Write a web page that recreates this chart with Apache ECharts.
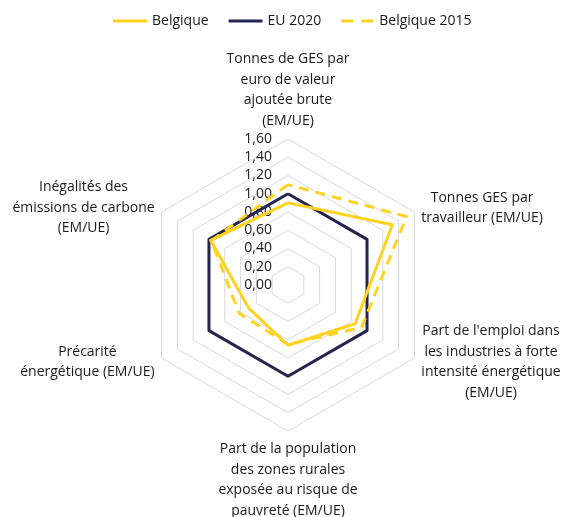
<!DOCTYPE html>
<html>
<head>
<meta charset="utf-8">
<script src="https://cdn.jsdelivr.net/npm/echarts@6/dist/echarts.min.js"></script>
<style>html,body{margin:0;padding:0;background:#fff}#chart{width:566px;height:517px}</style>
</head>
<body>
<div id="chart"></div>
<script>
// Indicators, listed counter-clockwise from the top
const indicatorNames = [
  "Tonnes de GES par\neuro de valeur\najoutée brute\n(EM/UE)",
  "Inégalités des\némissions de carbone\n(EM/UE)",
  "Précarité\nénergétique (EM/UE)",
  "Part de la population\ndes zones rurales\nexposée au risque de\npauvreté (EM/UE)",
  "Part de l'emploi dans\nles industries à forte\nintensité énergétique\n(EM/UE)",
  "Tonnes GES par\ntravailleur (EM/UE)"
];
const seriesNames = ["Belgique", "EU 2020", "Belgique 2015"];
const belgique = [0.90, 0.98, 0.50, 0.66, 0.85, 1.32];
const eu2020 = [1.00, 1.00, 1.00, 1.00, 1.00, 1.00];
const belgique2015 = [1.10, 0.97, 0.62, 0.65, 0.93, 1.50];
const axisMax = 1.6;

const YELLOW = '#FFD21F';
const NAVY = '#23254F';
const FONT = '"Open Sans", "Liberation Sans", sans-serif';

const chart = echarts.init(document.getElementById('chart'), null, {renderer: 'canvas'});

const indicators = indicatorNames.map((n, i) => {
  const o = {name: n, min: 0, max: axisMax};
  if (i === 0) o.axisLabel = {show: true};
  return o;
});

chart.setOption({
  animation: false,
  backgroundColor: '#fff',
  legend: {
    top: 9,
    left: 108,
    itemWidth: 34,
    itemHeight: 3,
    itemGap: 20,
    textStyle: {fontFamily: FONT, fontSize: 14, color: '#1a1a1a'},
    data: [
      {name: seriesNames[0], icon: 'rect', itemStyle: {color: YELLOW}},
      {name: seriesNames[1], icon: 'rect', itemStyle: {color: NAVY}},
      {name: seriesNames[2], icon: 'path://M0,0h12v3h-12zM20,0h12v3h-12z', itemStyle: {color: YELLOW}}
    ]
  },
  radar: {
    center: [288, 285],
    radius: 146,
    shape: 'polygon',
    splitNumber: 8,
    nameGap: 8,
    axisName: {
      color: '#1a1a1a',
      fontFamily: FONT,
      fontSize: 14,
      lineHeight: 20.5,
      formatter: function (v) {
        return v.split('\n').map(l => '{c|' + l + '}').join('\n');
      },
      rich: {c: {align: 'center', fontFamily: FONT, fontSize: 14, lineHeight: 20.5, color: '#1a1a1a'}}
    },
    axisLine: {show: false},
    axisTick: {show: false},
    splitArea: {show: false},
    splitLine: {lineStyle: {color: '#d9d9d9', width: 1}},
    axisLabel: {
      show: false,
      margin: 16,
      color: '#1a1a1a',
      fontFamily: FONT,
      fontSize: 14,
      formatter: function (v) { return Number(v).toFixed(2).replace('.', ','); }
    },
    indicator: indicators
  },
  series: [{
    type: 'radar',
    symbol: 'none',
    data: [
      {name: seriesNames[1], value: eu2020, lineStyle: {color: NAVY, width: 3}, itemStyle: {color: NAVY}},
      {name: seriesNames[2], value: belgique2015, lineStyle: {color: YELLOW, width: 3, type: [10, 7]}, itemStyle: {color: YELLOW}},
      {name: seriesNames[0], value: belgique, lineStyle: {color: YELLOW, width: 3}, itemStyle: {color: YELLOW}}
    ]
  }]
});
</script>
</body>
</html>
